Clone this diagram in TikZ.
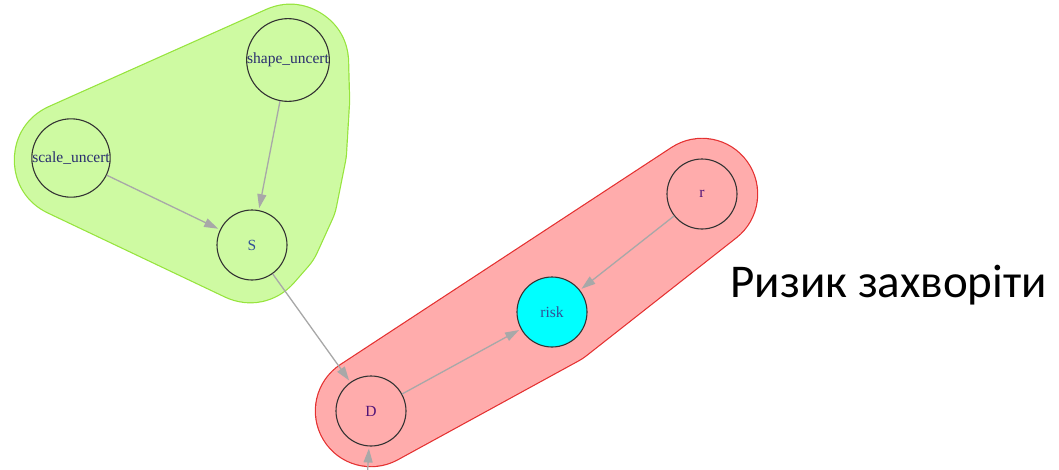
\documentclass[tikz,border=0pt]{standalone}
\usepackage{fontspec}
\setmainfont{Liberation Serif}
\newfontfamily\captionfont{Carlito}
\usetikzlibrary{arrows.meta,backgrounds}

\definecolor{hullgreen}{RGB}{206,250,162}
\definecolor{hullgreenline}{RGB}{150,228,60}
\definecolor{hullred}{RGB}{255,172,172}
\definecolor{hullredline}{RGB}{228,48,48}
\definecolor{edgegray}{RGB}{168,168,168}
\definecolor{riskcyan}{RGB}{0,255,255}
\definecolor{labelnavy}{RGB}{40,44,110}
\definecolor{labelpurple}{RGB}{80,20,120}
\definecolor{labelblue}{RGB}{50,80,150}

\begin{document}
\begin{tikzpicture}[x=1pt,y=-1pt,
	var/.style={circle,draw=black!80,line width=1.1pt,minimum size=70pt,inner sep=0pt,font=\fontsize{15.5}{15.5}\selectfont,text=labelnavy},
	dep/.style={-{Triangle[length=14pt,width=9pt]},draw=edgegray,fill=edgegray,line width=1.3pt,shorten >=2pt},
	hullrim/.style={line join=round,line width=#1+2.4pt},
	hullbody/.style={line join=round,line width=#1}]
	\useasboundingbox (0,0) rectangle (1059,469);
	\node[var] (shape) at (288,60) {shape\_uncert};
	\node[var] (scale) at (71,158) {scale\_uncert};
	\node[var,text=labelblue] (S) at (252,245) {S};
	\node[var,text=labelpurple] (D) at (371,411) {D};
	\node[var,fill=riskcyan,text=labelblue] (risk) at (552,312) {risk};
	\node[var,text=labelpurple] (r) at (702,194) {r};
	\coordinate (offpage) at (366,500);
	\node[anchor=base west,font=\captionfont\fontsize{47}{47}\selectfont] (caption) at (727,297) {Ризик захворіти};
	% groups
	\begin{scope}[on background layer]
		\draw[hullrim=116pt,hullgreenline] (290,63) -- (291,100) -- (288,150) -- (279,195) -- (264,228) -- (250,244) -- (73,160) -- cycle;
		\draw[hullbody=116pt,hullgreen,fill=hullgreen] (290,63) -- (291,100) -- (288,150) -- (279,195) -- (264,228) -- (250,244) -- (73,160) -- cycle;
		\draw[hullrim=110pt,hullredline] (D.center) -- (risk.center) -- (r.center) -- cycle;
		\draw[hullbody=110pt,hullred,fill=hullred] (D.center) -- (risk.center) -- (r.center) -- cycle;
	\end{scope}
	% edges
	\draw[dep] (shape) -- (S);
	\draw[dep] (scale) -- (S);
	\draw[dep] (S) -- (D);
	\draw[dep] (D) -- (risk);
	\draw[dep] (r) -- (risk);
	\draw[dep] (offpage) -- (D);
\end{tikzpicture}
\end{document}
